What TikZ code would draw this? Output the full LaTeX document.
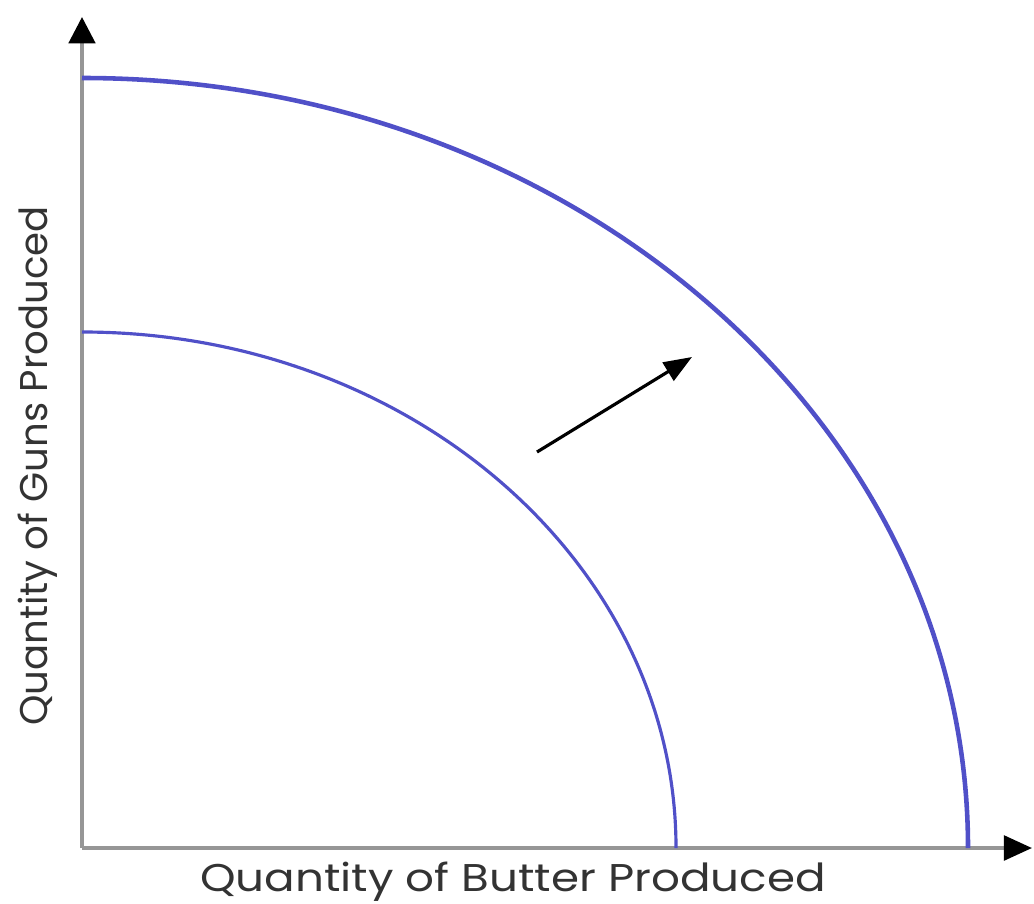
\documentclass[tikz,border=0pt]{standalone}
\usepackage{fontspec}
\setmainfont{Poppins}
\usepackage{tikz}
\usepackage{xcolor}
\usetikzlibrary{arrows.meta}
\definecolor{ppfblue}{RGB}{80,80,200}
\definecolor{axisgray}{RGB}{150,150,150}

\begin{document}
\begin{tikzpicture}[x=1cm, y=1cm]
  \useasboundingbox (0,0) rectangle (10.34,9.03);
  % Axes
  \coordinate (O) at (0.82,0.55);
  \coordinate (ytop) at (0.82,8.86);
  \coordinate (xend) at (10.32,0.55);
  \draw[axisgray, line width=1.1pt, -{Triangle[black, length=7.5pt, width=7.5pt]}] (O) -- (ytop);
  \draw[axisgray, line width=1.1pt, -{Triangle[black, length=8pt, width=7pt]}] (O) -- (xend);
  % Frontiers: quarter ellipses round the origin
  \draw[ppfblue, line width=1.3pt] (0.82,8.25)
    arc[start angle=90, end angle=0, x radius=8.86, y radius=7.70];
  \draw[ppfblue, line width=0.9pt] (0.82,5.71)
    arc[start angle=90, end angle=0, x radius=5.94, y radius=5.16];
  % Outward shift
  \coordinate (shiftA) at (5.37,4.51);
  \coordinate (shiftB) at (6.92,5.46);
  \draw[line width=0.9pt, -{Triangle[length=8pt, width=6pt]}] (shiftA) -- (shiftB);
  % Labels
  \node[font=\fontsize{11}{13}\selectfont, text=black!80, xscale=1.17] (xlab) at (5.13,0.21) {Quantity of Butter Produced};
  \node[font=\fontsize{11}{13}\selectfont, text=black!80, rotate=90] (ylab) at (0.38,4.37) {Quantity of Guns Produced};
\end{tikzpicture}
\end{document}
